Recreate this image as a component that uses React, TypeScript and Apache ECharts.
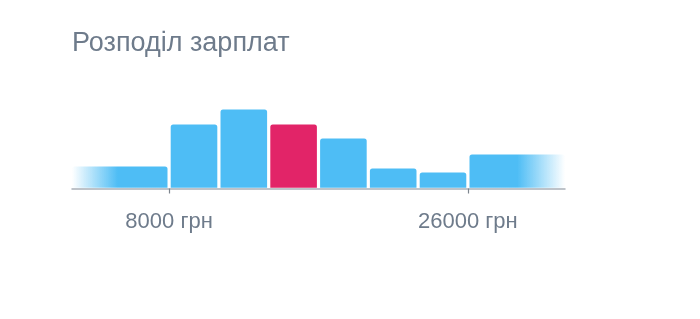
import React, { useEffect, useRef } from "react";
import * as echarts from "echarts";

const binStarts = [2150, 8000, 11000, 14000, 17000, 20000, 23000, 26000];
const binEnds = [8000, 11000, 14000, 17000, 20000, 23000, 26000, 31850];
const counts = [22, 64, 79, 64, 50, 20, 16, 34];
const highlightIndex = 3;
const tickValues = [8000, 26000];
const titleText = "Розподіл зарплат";
const unit = "грн";

const BLUE = "rgb(78,189,245)";
const BLUE0 = "rgba(78,189,245,0)";
const RED = "rgb(226,36,104)";
const FONT = "'Liberation Sans', Arial, sans-serif";

export default function App() {
  const ref = useRef<HTMLDivElement>(null);
  useEffect(() => {
    document.body.style.margin = "0";
    const chart = echarts.init(ref.current!, null, { renderer: "svg" });
    const data = binStarts.map((s, i) => [s, binEnds[i], counts[i]]);
    const last = data.length - 1;
    chart.setOption({
      animation: false,
      title: {
        text: titleText,
        left: 72,
        top: 28,
        padding: 0,
        textStyle: { fontSize: 27, fontWeight: "normal", color: "#6E7B8B", fontFamily: FONT },
      },
      grid: { left: 72, right: 135, top: 88.5, bottom: 130.5 },
      xAxis: {
        type: "value",
        min: binStarts[0],
        max: binEnds[binEnds.length - 1],
        splitLine: { show: false },
        axisLine: { show: true, lineStyle: { color: "#A9B0B8", width: 1.5 } },
        axisTick: {
          show: true,
          customValues: tickValues,
          length: 5,
          lineStyle: { color: "#7D858E", width: 1.2 },
        },
        axisLabel: {
          customValues: tickValues,
          formatter: (v: number) => `${v} ${unit}`,
          fontSize: 22,
          color: "#6E7B8B",
          fontFamily: FONT,
          margin: 21,
        },
      },
      yAxis: { type: "value", min: 0, max: 100, show: false },
      series: [
        {
          type: "custom",
          data,
          renderItem: (params: any, api: any) => {
            const i = params.dataIndex;
            const p0 = api.coord([api.value(0), api.value(2)]);
            const p1 = api.coord([api.value(1), 0]);
            const insetL = i === 0 ? 0 : 1.6;
            const insetR = i === last ? 0 : 1.6;
            const x = p0[0] + insetL;
            const w = p1[0] - p0[0] - insetL - insetR;
            const y = p0[1];
            const h = p1[1] - p0[1] - 0.75;
            let fill: any = i === highlightIndex ? RED : BLUE;
            if (i === 0) {
              fill = new echarts.graphic.LinearGradient(0, 0, 1, 0, [
                { offset: 0, color: BLUE0 },
                { offset: 0.48, color: BLUE },
                { offset: 1, color: BLUE },
              ]);
            } else if (i === last) {
              fill = new echarts.graphic.LinearGradient(0, 0, 1, 0, [
                { offset: 0, color: BLUE },
                { offset: 0.5, color: BLUE },
                { offset: 1, color: BLUE0 },
              ]);
            }
            return {
              type: "rect",
              shape: { x, y, width: w, height: h, r: [2.5, 2.5, 0, 0] },
              style: { fill },
            };
          },
        },
      ],
    });
    return () => chart.dispose();
  }, []);
  return <div ref={ref} style={{ width: 700, height: 319, position: "fixed", left: 0, top: 0 }} />;
}
